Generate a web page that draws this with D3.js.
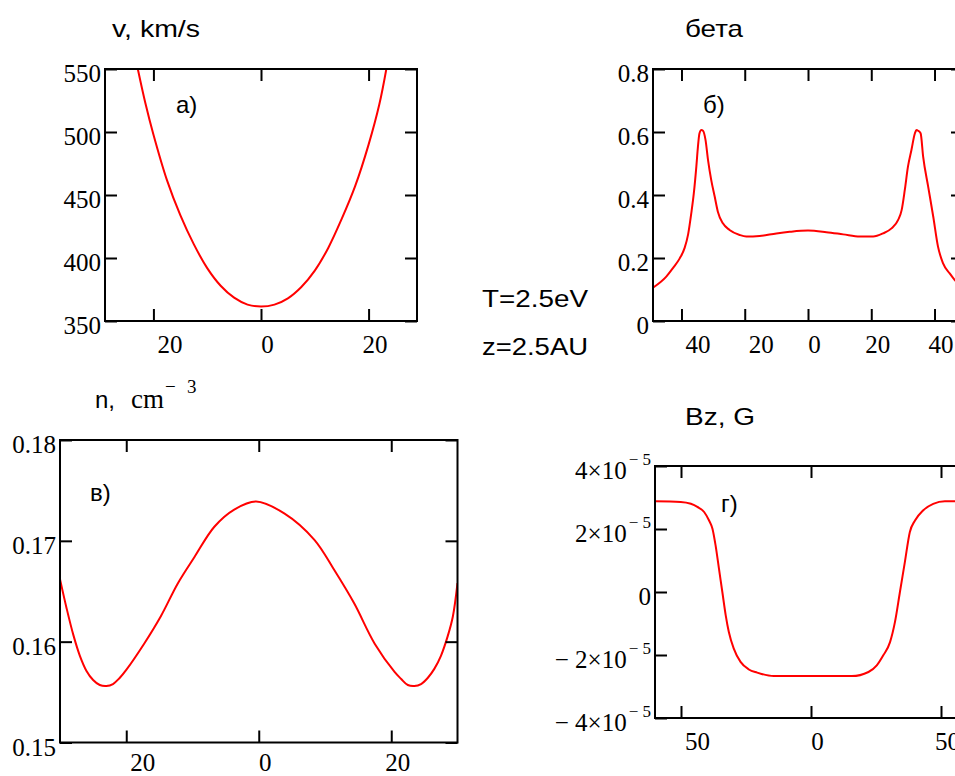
<!DOCTYPE html>
<html>
<head>
<meta charset="utf-8">
<script src="https://cdn.jsdelivr.net/npm/d3@7"></script>
<style>
  body { margin: 0; background: #fff; }
</style>
</head>
<body>
<svg id="chart" width="955" height="776"></svg>
<script>
// a) solar wind speed, km/s
var velX = [-22.9, -21.5, -20, -17.5, -15, -12.5, -10, -7.5, -5, -2.5, 0, 2.5, 5, 7.5, 10, 12.5, 15, 17.5, 20, 22, 23.3];
var velY = [550, 523, 498, 462, 434, 411, 392, 378, 368.5, 363, 361.5, 363, 368, 377, 390, 408, 431, 457, 490, 522, 550];
var velXTicks = [-20, 0, 20];
var velYTicks = [350, 400, 450, 500, 550];

// б) plasma beta
var betaX = [-49, -44.8, -42.7, -40.6, -39, -37.9, -36.9, -36.1, -35.3, -34.8, -34.3, -33.7, -33.2, -32.4, -31.6, -30.6, -29.5, -28.5, -26.9, -24.8, -21.6, -19.5, -15.3, -10, -5.8, 0, 5.8, 11.1, 16.4, 20.6, 23.7, 26.4, 28.5, 29.6, 30.6, 31.6, 32.7, 33.8, 34.3, 34.8, 35.6, 36.4, 38, 39.6, 41.1, 42.7, 44.8, 46.4, 49];
var betaY = [0.106, 0.141, 0.168, 0.198, 0.232, 0.275, 0.342, 0.405, 0.49, 0.553, 0.596, 0.606, 0.604, 0.575, 0.511, 0.448, 0.395, 0.347, 0.31, 0.289, 0.273, 0.268, 0.27, 0.278, 0.283, 0.287, 0.282, 0.275, 0.268, 0.268, 0.278, 0.294, 0.321, 0.352, 0.416, 0.49, 0.543, 0.596, 0.606, 0.604, 0.596, 0.522, 0.426, 0.331, 0.236, 0.183, 0.151, 0.13, 0.108];
var betaXTicks = [-40, -20, 0, 20, 40];
var betaYTicks = [0, 0.2, 0.4, 0.6, 0.8];

// в) density, cm^-3
var densX = [-30, -29, -28, -27, -26, -25, -24, -23, -22, -21, -20, -17.3, -14.8, -12.2, -9.7, -6.7, -3.7, -0.4, 3.9, 8.4, 11.4, 14.4, 17.5, 20.5, 21.5, 22.5, 23.5, 24.5, 25.5, 26.5, 27.5, 28.5, 29.3, 30];
var densY = [0.1662, 0.1633, 0.1607, 0.1586, 0.1571, 0.1562, 0.1557, 0.1556, 0.1558, 0.1564, 0.1572, 0.1598, 0.1625, 0.1658, 0.1684, 0.1714, 0.1731, 0.1739, 0.1727, 0.1701, 0.1671, 0.1638, 0.1598, 0.157, 0.1563, 0.1557, 0.1556, 0.1558, 0.1564, 0.1573, 0.1586, 0.1605, 0.1625, 0.1658];
var densXTicks = [-20, 0, 20];
var densYTicks = [0.15, 0.16, 0.17, 0.18];

// г) Bz, in units of 1e-5 G
var bzX = [-60, -50.1, -46.2, -43.7, -41.1, -39.2, -37.9, -36.7, -35.4, -34.1, -32.8, -31.6, -29.7, -27.1, -23.9, -20.7, -14.3, 0, 15.7, 22.1, 25.3, 27.8, 30.4, 32.3, 34.2, 36.1, 38, 40, 43.1, 47, 51.5, 60];
var bzE5 = [2.88, 2.86, 2.8, 2.7, 2.54, 2.27, 2.01, 1.48, 0.74, 0, -0.74, -1.27, -1.8, -2.22, -2.46, -2.56, -2.67, -2.67, -2.67, -2.54, -2.33, -2.01, -1.59, -0.95, 0, 0.95, 1.9, 2.27, 2.59, 2.8, 2.88, 2.88];
var bzXTicks = [-50, 0, 50];
var bzYTicks = [-4, -2, 0, 2, 4];

var SERIF = "'Liberation Serif', 'Times New Roman', serif";
var SANS = "'Liberation Sans', Arial, sans-serif";

var svg = d3.select("#chart");
var clipId = 0;

function drawPanel(p) {
  var x = d3.scaleLinear().domain(p.xDomain).range([p.left, p.right]);
  var y = d3.scaleLinear().domain(p.yDomain).range([p.bottom, p.top]);
  var g = svg.append("g");

  var id = "clip" + (clipId++);
  g.append("clipPath").attr("id", id)
    .append("rect")
      .attr("x", p.left).attr("y", p.top)
      .attr("width", p.right - p.left).attr("height", p.bottom - p.top);

  var line = d3.line()
    .x(function(d) { return x(d[0]); })
    .y(function(d) { return y(d[1]); })
    .curve(p.curve || d3.curveMonotoneX);

  g.append("path")
    .datum(d3.zip(p.xs, p.ys))
    .attr("clip-path", "url(#" + id + ")")
    .attr("fill", "none")
    .attr("stroke", "#ff0000")
    .attr("stroke-width", 2)
    .attr("d", line);

  g.append("rect")
    .attr("x", p.left).attr("y", p.top)
    .attr("width", p.right - p.left).attr("height", p.bottom - p.top)
    .attr("fill", "none").attr("stroke", "#000").attr("stroke-width", 2);

  var bottomAx = g.append("g")
    .attr("transform", "translate(0," + p.bottom + ")")
    .call(d3.axisBottom(x).tickValues(p.xTicks).tickSize(-12).tickPadding(p.xPad || 14)
      .tickFormat(function(d) { return Math.abs(d); }));
  bottomAx.selectAll("text").attr("dx", function(d) { return d < 0 ? 16 : 6; });

  g.append("g")
    .attr("transform", "translate(0," + p.top + ")")
    .call(d3.axisTop(x).tickValues(p.xTicks).tickSize(-12).tickFormat(""));

  var leftAx = g.append("g")
    .attr("transform", "translate(" + p.left + ",0)")
    .call(d3.axisLeft(y).tickValues(p.yTicks).tickSize(-12).tickPadding(4)
      .tickFormat(p.yFormat || d3.format("~g")));
  leftAx.selectAll("text").attr("dy", "0.5em");

  g.append("g")
    .attr("transform", "translate(" + p.right + ",0)")
    .call(d3.axisRight(y).tickValues(p.yTicks).tickSize(-12).tickFormat(""));

  g.selectAll(".domain").remove();
  g.selectAll(".tick line").attr("stroke", "#000").attr("stroke-width", 2);
  g.selectAll(".tick text")
    .style("font-family", SERIF)
    .style("font-size", "25px")
    .attr("fill", "#000");

  if (p.yLabel) leftAx.selectAll("text").each(p.yLabel);
}

drawPanel({
  left: 105, right: 417, top: 69, bottom: 321,
  xDomain: [-29, 29], yDomain: [350, 550],
  xs: velX, ys: velY, xTicks: velXTicks, yTicks: velYTicks,
  curve: d3.curveCatmullRom.alpha(0.5)
});

drawPanel({
  left: 653, right: 963, top: 69, bottom: 321,
  xDomain: [-49, 49], yDomain: [0, 0.8],
  xs: betaX, ys: betaY, xTicks: betaXTicks, yTicks: betaYTicks
});

drawPanel({
  left: 60, right: 457.5, top: 440, bottom: 742.5,
  xDomain: [-30, 30], yDomain: [0.15, 0.18],
  xs: densX, ys: densY, xTicks: densXTicks, yTicks: densYTicks,
  yFormat: d3.format(".2f"), xPad: 11,
  curve: d3.curveCatmullRom.alpha(0.5)
});

drawPanel({
  left: 655, right: 967, top: 466, bottom: 718,
  xDomain: [-60, 60], yDomain: [-4, 4],
  xs: bzX, ys: bzE5, xTicks: bzXTicks, yTicks: bzYTicks,
  yLabel: function(d) {
    var t = d3.select(this).text(null);
    if (d === 0) { t.text("0"); return; }
    t.append("tspan").style("font-size", "25px")
      .text((d < 0 ? "\u2212 " : "") + Math.abs(d) + "\u00d710");
    t.append("tspan").attr("dy", -14).attr("dx", 2).style("font-size", "17px").text("\u2212 5");
  }
});

// titles and labels
function label(txt, x, y, len) {
  var t = svg.append("text").attr("x", x).attr("y", y)
    .style("font-family", SANS).style("font-size", "24px").attr("fill", "#000").text(txt);
  if (len) t.attr("textLength", len).attr("lengthAdjust", "spacingAndGlyphs");
  return t;
}
label("v, km/s", 112, 37, 88);
label("бета", 685, 37, 58);
label("Bz, G", 685, 425, 70);
label("T=2.5eV", 482, 307, 106);
label("z=2.5AU", 482, 355, 106);
label("а)", 176, 113);
label("б)", 703, 113);
label("в)", 90, 501);
label("г)", 721, 512);

var nTitle = svg.append("text").attr("x", 95).attr("y", 408).attr("fill", "#000");
nTitle.append("tspan").style("font-family", SANS).style("font-size", "24px").text("n,");
nTitle.append("tspan").attr("x", 131).style("font-family", SERIF).style("font-size", "27px").text("cm");
nTitle.append("tspan").attr("x", 165).attr("dy", -15).style("font-family", SERIF)
  .style("font-size", "19px").text("\u2212");
nTitle.append("tspan").attr("x", 187).style("font-family", SERIF)
  .style("font-size", "19px").text("3");
</script>
</body>
</html>
